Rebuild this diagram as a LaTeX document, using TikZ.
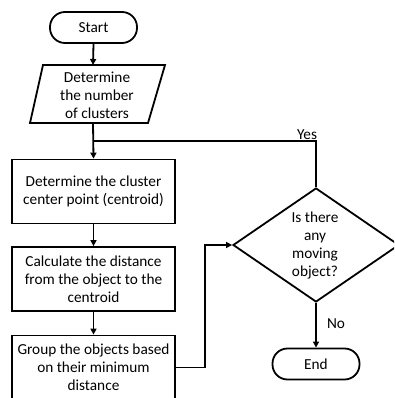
\documentclass[tikz,border=0pt]{standalone}
\usepackage{fontspec}
\setmainfont{Carlito}
\usetikzlibrary{shapes.geometric,arrows.meta}
\begin{document}
\begin{tikzpicture}[x=1pt,y=-1pt,
  every node/.style={font=\fontsize{15.3}{18.2}\selectfont, align=center, inner sep=0pt},
  line/.style={line width=1.8pt, draw=black},
  arr/.style={line, -{Triangle[length=6pt,width=6pt]}},
  term/.style={line, rectangle, rounded corners=15pt, minimum width=87pt, minimum height=31pt},
  procbox/.style={line, rectangle, minimum width=163pt, minimum height=64pt},
  decision/.style={line, diamond, minimum width=166pt, minimum height=114pt, aspect=1.45}]
\useasboundingbox (0,0) rectangle (394,398);
\clip (0,0) rectangle (394,398);
\node[term] (start) at (93.5,27.5) {Start};
\draw[line] (43,65) -- (165,65) -- (148,123) -- (30,123) -- cycle;
\node (par) at (97,95) {Determine\\the number\\of clusters};
\coordinate (parTop) at (93,65);
\coordinate (parBot) at (93,123);
\node[procbox] (b1) at (93.5,191.5) {Determine the cluster\\center point (centroid)};
\node[procbox] (b2) at (93.5,279) {Calculate the distance\\from the object to the\\centroid};
\node[procbox] (b3) at (93.5,367.5) {Group the objects based\\on their minimum\\distance};
\node[decision] (dia) at (316,245) {};
\node (diatext) at (315,245.5) {Is there\\any\\moving\\object?};
\node[term] (end) at (316,364) {End};
\coordinate (join) at (93,141);
\coordinate (yesCorner) at (316,141);
\coordinate (c1) at (205,367.5);
\coordinate (c2) at (205,245);
\draw[arr] (start.south) -- (parTop);
\draw[arr] (parBot) -- (b1.north);
\draw[arr] (b1.south) -- (b2.north);
\draw[arr] (b2.south) -- (b3.north);
\draw[arr] (b3.east) -- (c1) -- (c2) -- (dia.west);
\draw[line] (dia.north) -- (yesCorner) -- (join);
\node[anchor=south] (yes) at (307,140) {Yes};
\draw[arr] (dia.south) -- (end.north);
\node (no) at (336,324) {No};
\end{tikzpicture}
\end{document}
